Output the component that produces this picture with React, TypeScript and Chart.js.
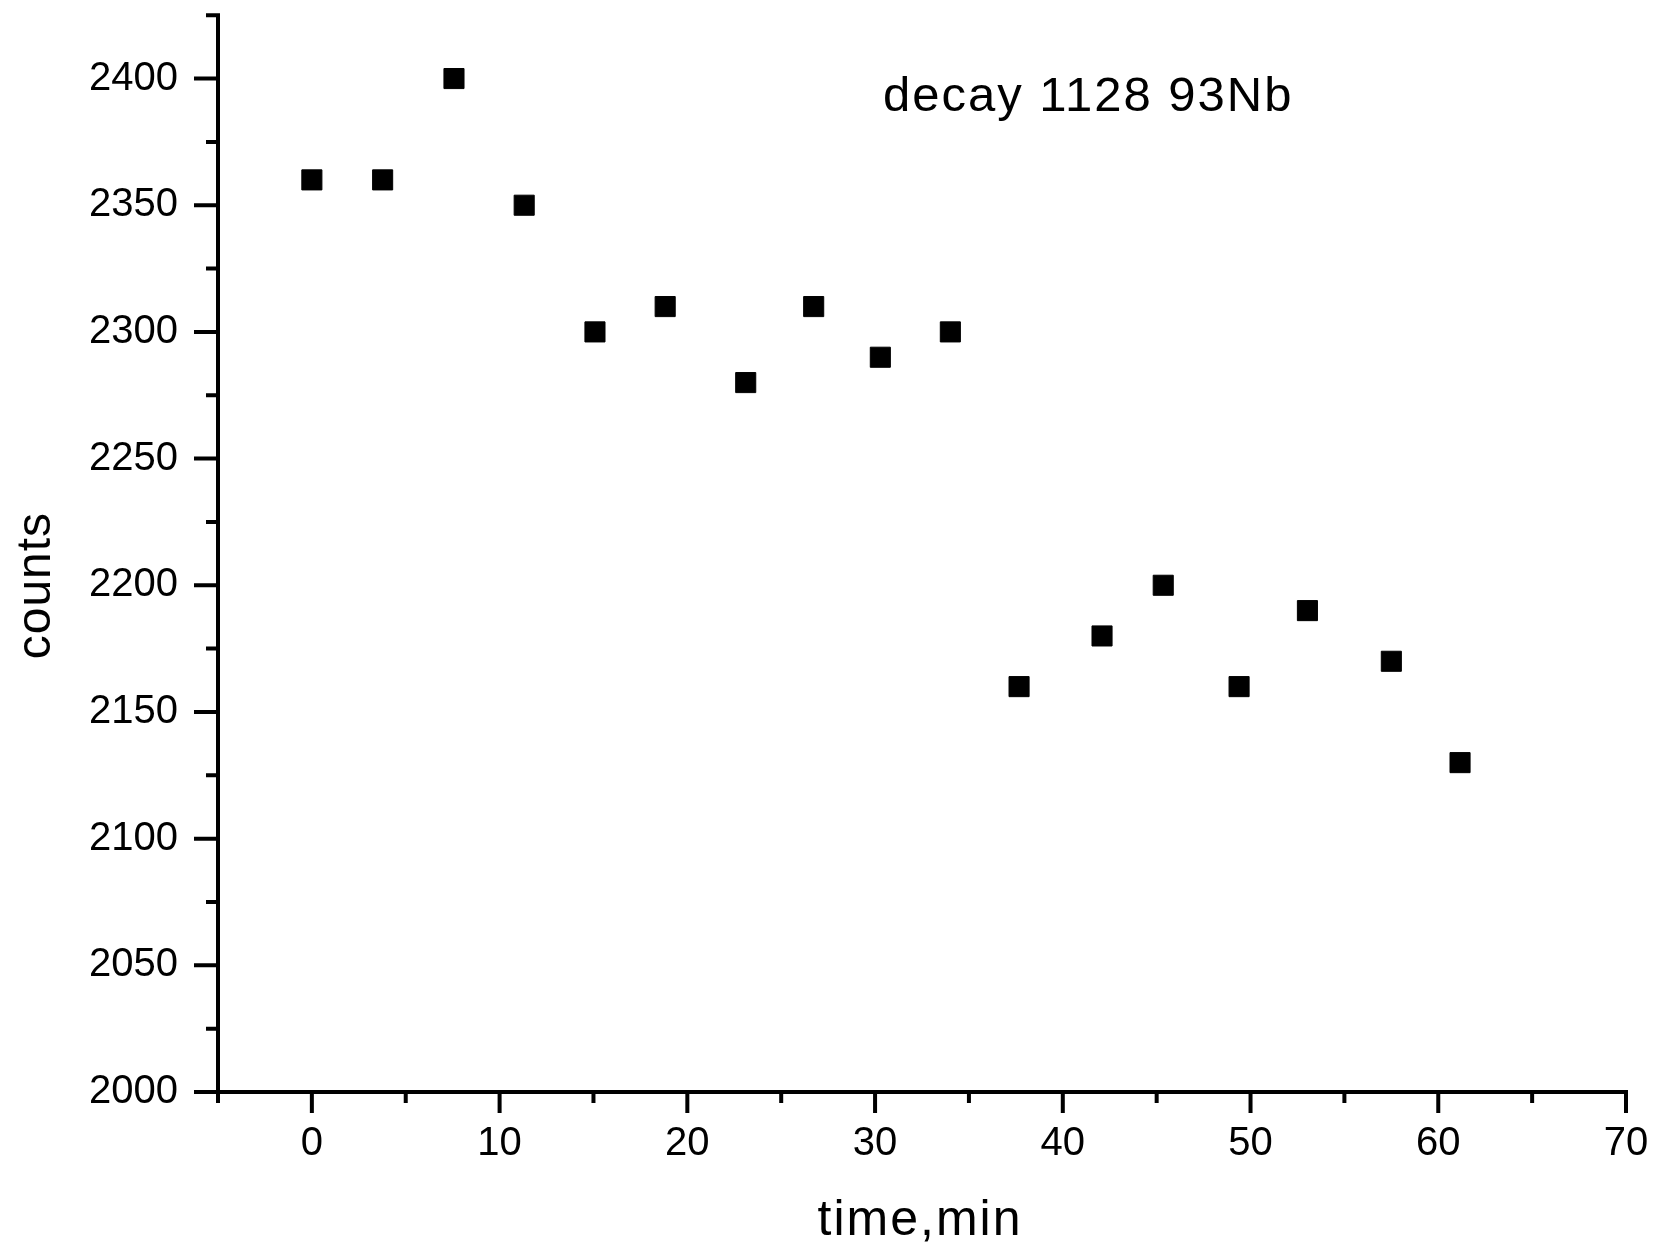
import React, { useEffect, useRef } from 'react';
import { Chart, registerables } from 'chart.js';

Chart.register(...registerables);

// ---- data ----
const timeMin = [0, 3.77, 7.57, 11.31, 15.08, 18.82, 23.11, 26.73, 30.28, 34.01, 37.67, 42.09, 45.35, 49.39, 53.03, 57.5, 61.16];
const counts = [2360, 2360, 2400, 2350, 2300, 2310, 2280, 2310, 2290, 2300, 2160, 2180, 2200, 2160, 2190, 2170, 2130];
const xMajorTicks = [0, 10, 20, 30, 40, 50, 60, 70];
const yMajorTicks = [2000, 2050, 2100, 2150, 2200, 2250, 2300, 2350, 2400];
const xTitle = 'time,min';
const yTitle = 'counts';
const annotationText = 'decay 1128 93Nb';
const annotationX = 30.42;
const annotationY = 2387;

const FONT = "'Liberation Sans', Arial, sans-serif";

const originAxes = {
  id: 'originAxes',
  afterDraw(chart: any) {
    const { ctx, chartArea: a, scales } = chart;
    const xs = scales.x;
    const ys = scales.y;
    ctx.save();
    ctx.strokeStyle = '#000';
    ctx.lineWidth = 4;
    ctx.lineCap = 'butt';
    ctx.beginPath();
    ctx.moveTo(a.left, a.top - 2);
    ctx.lineTo(a.left, a.bottom + 2);
    ctx.moveTo(a.left - 2, a.bottom);
    ctx.lineTo(a.right + 2, a.bottom);
    ys.ticks.forEach((t: any) => {
      const py = ys.getPixelForValue(t.value);
      const len = yMajorTicks.includes(t.value) ? 24 : 12;
      ctx.moveTo(a.left + 2, py);
      ctx.lineTo(a.left - len, py);
    });
    xs.ticks.forEach((t: any) => {
      const px = xs.getPixelForValue(t.value);
      const len = xMajorTicks.includes(t.value) ? 21 : 11;
      ctx.moveTo(px, a.bottom - 2);
      ctx.lineTo(px, a.bottom + len);
    });
    ctx.stroke();
    ctx.restore();

    // x axis title
    ctx.save();
    ctx.fillStyle = '#000';
    ctx.font = `50px ${FONT}`;
    (ctx as any).letterSpacing = '2px';
    ctx.textAlign = 'center';
    ctx.textBaseline = 'alphabetic';
    ctx.fillText(xTitle, (a.left + a.right) / 2 - 2, a.bottom + 143);
    ctx.restore();

    // y axis title
    ctx.save();
    ctx.fillStyle = '#000';
    ctx.font = `48px ${FONT}`;
    (ctx as any).letterSpacing = '1px';
    ctx.textAlign = 'center';
    ctx.textBaseline = 'alphabetic';
    ctx.translate(50, (a.top + a.bottom) / 2 + 32);
    ctx.rotate(-Math.PI / 2);
    ctx.fillText(yTitle, 0, 0);
    ctx.restore();

    // annotation
    ctx.save();
    ctx.fillStyle = '#000';
    ctx.font = `49px ${FONT}`;
    (ctx as any).letterSpacing = '2px';
    ctx.textAlign = 'left';
    ctx.textBaseline = 'alphabetic';
    ctx.fillText(annotationText, xs.getPixelForValue(annotationX), ys.getPixelForValue(annotationY));
    ctx.restore();
  },
};

export default function App() {
  const ref = useRef<HTMLCanvasElement>(null);
  useEffect(() => {
    document.body.style.margin = '0';
    const canvas = ref.current!;
    const chart = new Chart(canvas, {
      type: 'scatter',
      data: {
        datasets: [
          {
            label: 'counts',
            data: timeMin.map((t, i) => ({ x: t, y: counts[i] })),
            pointStyle: 'rect',
            pointRadius: 14.2,
            pointHoverRadius: 14.2,
            backgroundColor: '#000',
            borderColor: '#000',
            borderWidth: 1,
          },
        ],
      },
      options: {
        animation: false,
        responsive: false,
        maintainAspectRatio: false,
        devicePixelRatio: 1,
        layout: { padding: { top: 13.6, right: 28, left: 0, bottom: 0 } },
        plugins: { legend: { display: false }, tooltip: { enabled: false }, title: { display: false } },
        scales: {
          x: {
            type: 'linear',
            min: -5,
            max: 70,
            grid: { display: false, drawTicks: false },
            border: { display: false },
            ticks: {
              stepSize: 5,
              autoSkip: false,
              maxRotation: 0,
              padding: 28,
              color: '#000',
              font: { family: FONT, size: 40 },
              callback: (v: any) => (xMajorTicks.includes(Number(v)) ? String(v) : ''),
            },
            title: { display: false },
            afterFit: (s: any) => {
              s.height = 155;
              s.paddingLeft = 0;
              s.paddingRight = 0;
            },
          },
          y: {
            type: 'linear',
            min: 2000,
            max: 2425,
            grid: { display: false, drawTicks: false },
            border: { display: false },
            ticks: {
              stepSize: 25,
              autoSkip: false,
              padding: 40,
              color: '#000',
              font: { family: FONT, size: 40 },
              callback: (v: any) => (yMajorTicks.includes(Number(v)) ? String(v) : ''),
            },
            afterFit: (s: any) => {
              s.width = 218;
              s.paddingTop = 0;
              s.paddingBottom = 0;
            },
          },
        },
      },
      plugins: [originAxes],
    });
    return () => chart.destroy();
  }, []);
  return (
    <div style={{ width: 1654, height: 1247, position: 'relative' }}>
      <canvas ref={ref} width={1654} height={1247} style={{ display: 'block' }} />
    </div>
  );
}
